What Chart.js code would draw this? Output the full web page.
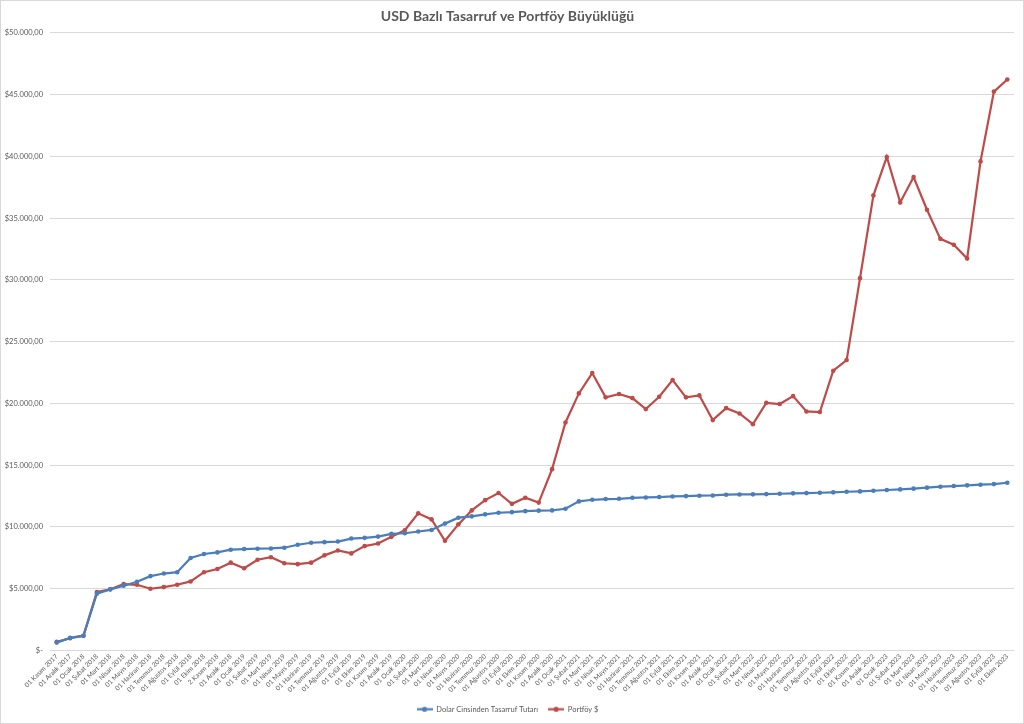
<!DOCTYPE html>
<html>
<head>
<meta charset="utf-8">
<script src="https://cdn.jsdelivr.net/npm/chart.js@4.4.0/dist/chart.umd.min.js"></script>
<style>
    html, body { margin: 0; padding: 0; background: #fff; }
    .frame {
        width: 1024px;
        height: 724px;
        box-sizing: border-box;
        border: 1px solid #d9d9d9;
    }
</style>
</head>
<body>
<div class="frame">
    <canvas id="myChart" width="1022" height="722"></canvas>
</div>
<script>
const months = [
    "01 Kasım 2017", "01 Aralık 2017",
    "01 Ocak 2018", "01 Şubat 2018", "01 Mart 2018", "01 Nisan 2018", "01 Mayıs 2018", "01 Haziran 2018",
    "01 Temmuz 2018", "01 Ağustos 2018", "01 Eylül 2018", "01 Ekim 2018", "2 Kasım 2018", "01 Aralık 2018",
    "01 Ocak 2019", "01 Şubat 2019", "01 Mart 2019", "01 Nisan 2019", "01 Mayıs 2019", "01 Haziran 2019",
    "01 Temmuz 2019", "01 Ağustos 2019", "01 Eylül 2019", "01 Ekim 2019", "01 Kasım 2019", "01 Aralık 2019",
    "01 Ocak 2020", "01 Şubat 2020", "01 Mart 2020", "01 Nisan 2020", "01 Mayıs 2020", "01 Haziran 2020",
    "01 Temmuz 2020", "01 Ağustos 2020", "01 Eylül 2020", "01 Ekim 2020", "01 Kasım 2020", "01 Aralık 2020",
    "01 Ocak 2021", "01 Şubat 2021", "01 Mart 2021", "01 Nisan 2021", "01 Mayıs 2021", "01 Haziran 2021",
    "01 Temmuz 2021", "01 Ağustos 2021", "01 Eylül 2021", "01 Ekim 2021", "01 Kasım 2021", "01 Aralık 2021",
    "01 Ocak 2022", "01 Şubat 2022", "01 Mart 2022", "01 Nisan 2022", "01 Mayıs 2022", "01 Haziran 2022",
    "01 Temmuz 2022", "01 Ağustos 2022", "01 Eylül 2022", "01 Ekim 2022", "01 Kasım 2022", "01 Aralık 2022",
    "01 Ocak 2023", "01 Şubat 2023", "01 Mart 2023", "01 Nisan 2023", "01 Mayıs 2023", "01 Haziran 2023",
    "01 Temmuz 2023", "01 Ağustos 2023", "01 Eylül 2023", "01 Ekim 2023"
];

const savings = [
    640, 1020, 1200, 4600, 4950, 5240, 5560, 6020, 6230, 6340,
    7490, 7810, 7940, 8160, 8210, 8240, 8260, 8320, 8560, 8720,
    8770, 8820, 9060, 9120, 9220, 9440, 9490, 9630, 9760, 10270,
    10750, 10860, 11020, 11150, 11200, 11280, 11320, 11340, 11470, 12070,
    12200, 12260, 12280, 12360, 12390, 12420, 12470, 12500, 12530, 12550,
    12610, 12630, 12640, 12660, 12690, 12720, 12740, 12770, 12800, 12850,
    12880, 12930, 12990, 13040, 13100, 13180, 13260, 13310, 13370, 13420,
    13470, 13580
];

const portfolio = [
    700, 990, 1200, 4730, 4950, 5370, 5320, 5000, 5130, 5320,
    5590, 6340, 6600, 7110, 6660, 7350, 7550, 7060, 6990, 7110,
    7700, 8100, 7860, 8450, 8660, 9200, 9730, 11100, 10610, 8880,
    10210, 11340, 12170, 12750, 11870, 12360, 11970, 14680, 18460, 20810,
    22460, 20490, 20760, 20430, 19540, 20540, 21890, 20490, 20650, 18650,
    19620, 19190, 18320, 20050, 19950, 20590, 19350, 19300, 22650, 23510,
    30140, 36840, 39950, 36270, 38320, 35680, 33320, 32840, 31730, 39590,
    45240, 46220
];

const yTicks = [0, 5000, 10000, 15000, 20000, 25000, 30000, 35000, 40000, 45000, 50000];

const blue = "#4a7ebb";
const red = "#be4b48";
const textGray = "#595959";
const fontFamily = "Lato, 'Open Sans', sans-serif";

// "$12.500,00" style, zero shown as "$-"
function money(v) {
    if (v === 0) return "$-";
    const whole = Math.round(v).toString().replace(/\B(?=(\d{3})+(?!\d))/g, ".");
    return "$" + whole + ",00";
}

// little line + dot icon for the legend
function legendMarker(color) {
    const c = document.createElement("canvas");
    c.width = 16;
    c.height = 7;
    const g = c.getContext("2d");
    g.strokeStyle = color;
    g.lineWidth = 2.2;
    g.beginPath();
    g.moveTo(0, 3.5);
    g.lineTo(16, 3.5);
    g.stroke();
    g.fillStyle = color;
    g.beginPath();
    g.arc(8, 3.5, 2.6, 0, Math.PI * 2);
    g.fill();
    return c;
}
const markers = [legendMarker(blue), legendMarker(red)];

const ctx = document.getElementById("myChart").getContext("2d");
const myChart = new Chart(ctx, {
    type: "line",
    data: {
        labels: months,
        datasets: [
            {
                label: "Dolar Cinsinden Tasarruf Tutarı",
                data: savings,
                borderColor: blue,
                backgroundColor: blue,
                borderWidth: 2.2,
                pointRadius: 2.3,
                pointBorderWidth: 0,
                tension: 0,
            },
            {
                label: "Portföy $",
                data: portfolio,
                borderColor: red,
                backgroundColor: red,
                borderWidth: 2.2,
                pointRadius: 2.3,
                pointBorderWidth: 0,
                tension: 0,
            },
        ],
    },
    options: {
        responsive: false,
        animation: false,
        layout: {
            padding: { left: 0, right: 9, top: 0, bottom: 0 },
        },
        plugins: {
            title: {
                display: true,
                text: "USD Bazlı Tasarruf ve Portföy Büyüklüğü",
                color: textGray,
                font: { family: fontFamily, size: 14, weight: "bold" },
                padding: { top: 7, bottom: 8 },
            },
            legend: {
                position: "bottom",
                labels: {
                    color: textGray,
                    font: { family: fontFamily, size: 7.5 },
                    usePointStyle: true,
                    pointStyleWidth: 16,
                    padding: 10,
                    generateLabels: function (chart) {
                        const items = Chart.defaults.plugins.legend.labels.generateLabels(chart);
                        items.forEach(function (it, i) {
                            it.pointStyle = markers[i];
                        });
                        return items;
                    },
                },
            },
            tooltip: { enabled: false },
        },
        scales: {
            x: {
                offset: true,
                grid: { display: false, drawTicks: false },
                border: { display: false },
                ticks: {
                    color: textGray,
                    font: { family: fontFamily, size: 6.6 },
                    minRotation: 45,
                    maxRotation: 45,
                    autoSkip: false,
                    padding: 2,
                },
                afterFit: function (scale) {
                    scale.height = 45;
                },
            },
            y: {
                min: 0,
                max: 50000,
                afterBuildTicks: function (scale) {
                    scale.ticks = yTicks.map(function (v) { return { value: v }; });
                },
                grid: { color: "#d9d9d9", lineWidth: 1, drawTicks: false },
                border: { display: false },
                ticks: {
                    color: textGray,
                    font: { family: fontFamily, size: 7.5 },
                    padding: 7,
                    callback: function (v) { return money(v); },
                },
                afterFit: function (scale) {
                    scale.width = 49;
                },
            },
        },
    },
});
</script>
</body>
</html>
